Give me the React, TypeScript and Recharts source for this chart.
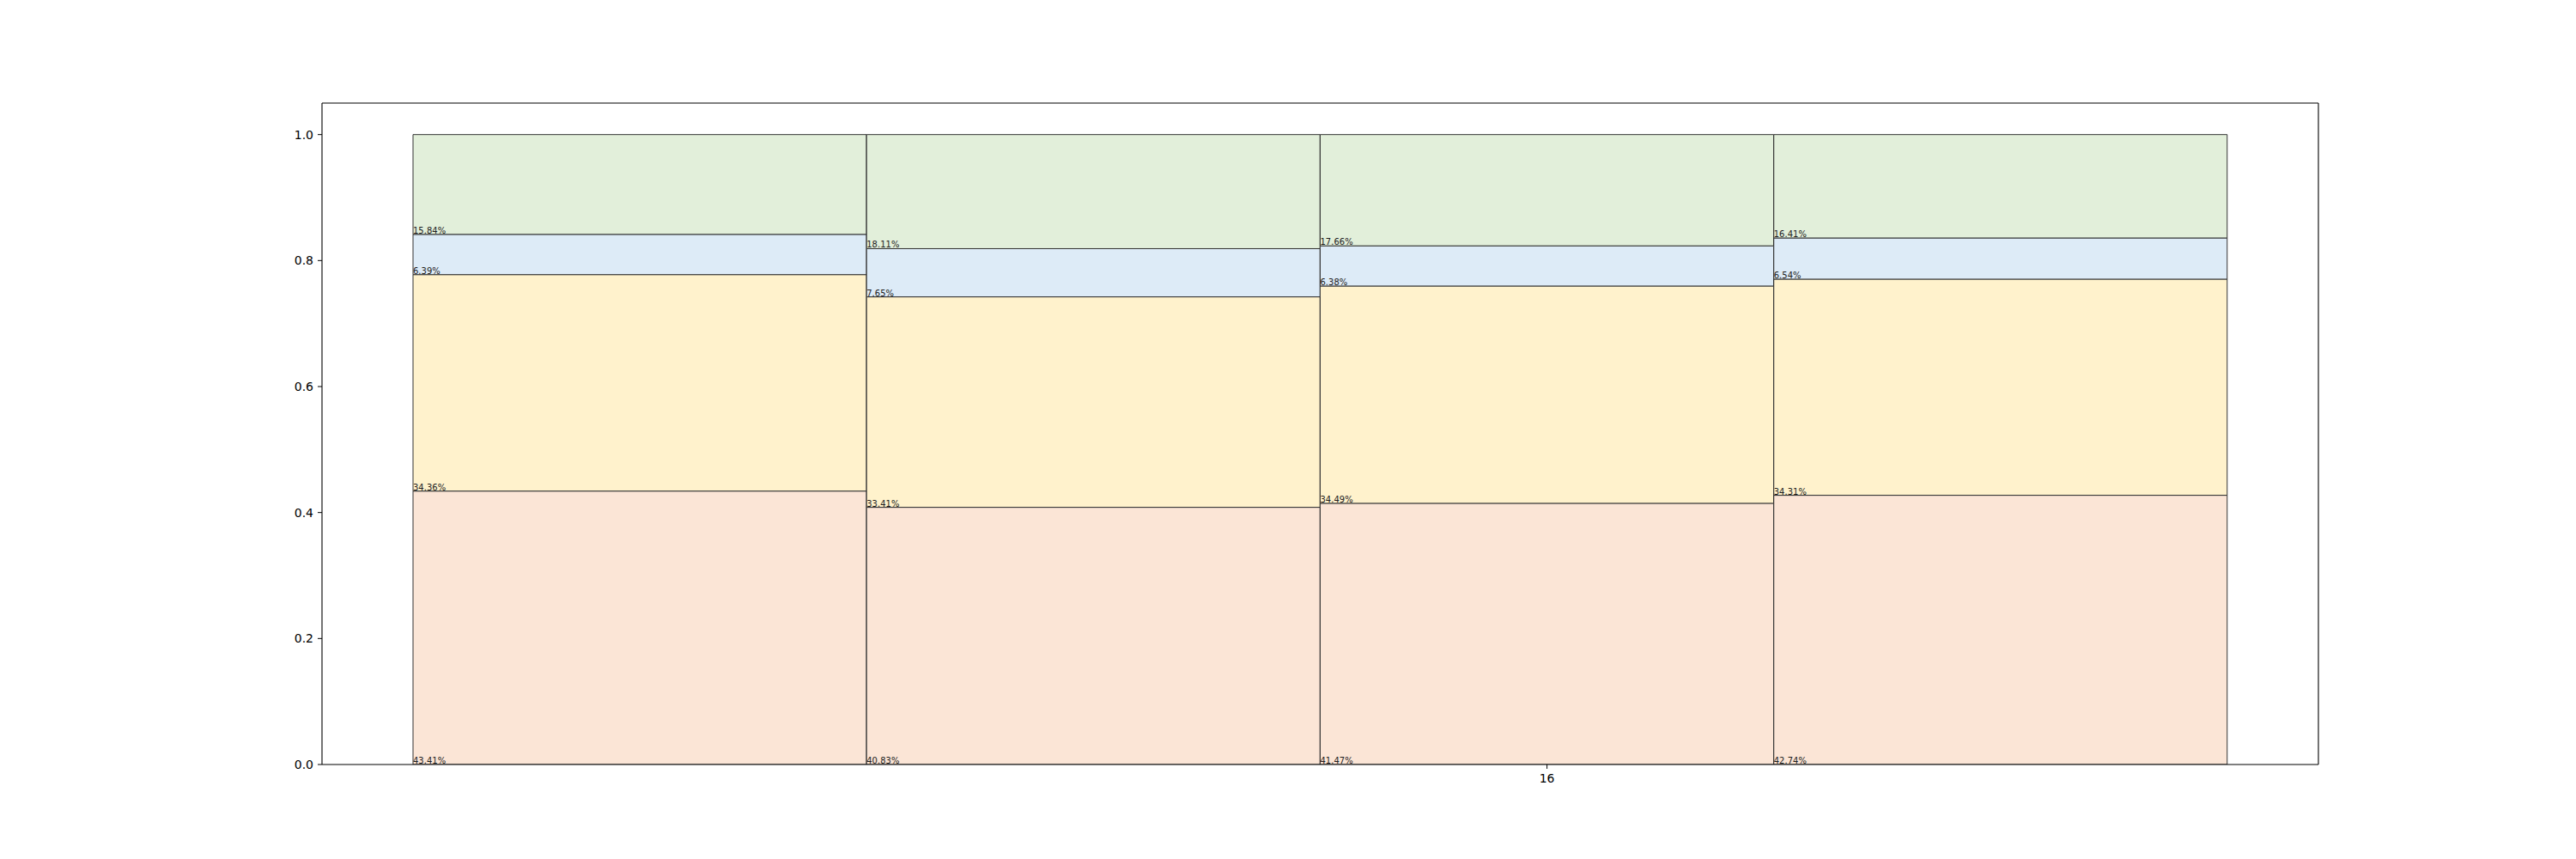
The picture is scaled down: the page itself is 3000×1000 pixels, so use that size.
import { Bar, BarChart, LabelList, XAxis, YAxis } from "recharts";

const groups = [14, 15, 16, 17];
const bottomShare = [43.41, 40.83, 41.47, 42.74];
const lowerShare = [34.36, 33.41, 34.49, 34.31];
const middleShare = [6.39, 7.65, 6.38, 6.54];
const topShare = [15.84, 18.11, 17.66, 16.41];
const yTicks = [0, 20, 40, 60, 80, 100];
const shownXTicks = [16];

const rows = groups.map((g, i) => ({
  group: g,
  bottom: bottomShare[i],
  lower: lowerShare[i],
  middle: middleShare[i],
  top: topShare[i],
}));

const series = [
  { key: "bottom", fill: "#fbe5d6" },
  { key: "lower", fill: "#fff2cc" },
  { key: "middle", fill: "#ddebf7" },
  { key: "top", fill: "#e2efda" },
];

const font = "DejaVu Sans, sans-serif";

function SegmentLabel(props: any) {
  const { x, y, height, value } = props;
  if (value == null) return null;
  return (
    <text x={x} y={y + height - 1} fontSize={10} fontFamily={font} fill="#222" textAnchor="start">
      {Number(value).toFixed(2)}%
    </text>
  );
}

function XTick(props: any) {
  const { x, y, payload } = props;
  if (!shownXTicks.includes(payload.value)) return null;
  return (
    <g>
      <line x1={x} x2={x} y1={y - 8} y2={y - 3} stroke="#000" strokeWidth={1} />
      <text x={x} y={y + 13} textAnchor="middle" fontSize={14} fontFamily={font} fill="#000">
        {payload.value}
      </text>
    </g>
  );
}

export default function App() {
  return (
    <div style={{ position: "absolute", left: 0, top: 0, background: "#fff" }}>
      <BarChart
        width={3000}
        height={1000}
        data={rows}
        margin={{ top: 119, right: 299, bottom: 80, left: 315 }}
        barCategoryGap={0}
        barGap={0}
      >
        <XAxis
          dataKey="group"
          type="category"
          padding={{ left: 106, right: 106 }}
          height={30}
          tickSize={5}
          tickMargin={3}
          tickLine={false}
          tick={<XTick />}
          axisLine={{ stroke: "#000", strokeWidth: 1.1 }}
          interval={0}
        />
        <XAxis
          xAxisId="frameTop"
          dataKey="group"
          type="category"
          orientation="top"
          height={1}
          tick={false}
          tickLine={false}
          axisLine={{ stroke: "#000", strokeWidth: 1.1 }}
        />
        <YAxis
          type="number"
          domain={[0, 105]}
          ticks={yTicks}
          width={60}
          tickSize={5}
          tickMargin={5}
          tickFormatter={(v: number) => (v / 100).toFixed(1)}
          tick={{ fontSize: 14, fontFamily: font, fill: "#000" }}
          tickLine={{ stroke: "#000" }}
          axisLine={{ stroke: "#000", strokeWidth: 1.1 }}
          allowDataOverflow
        />
        <YAxis
          yAxisId="frameRight"
          orientation="right"
          type="number"
          domain={[0, 105]}
          width={1}
          tick={false}
          tickLine={false}
          axisLine={{ stroke: "#000", strokeWidth: 1.1 }}
        />
        {series.map((s) => (
          <Bar
            key={s.key}
            dataKey={s.key}
            stackId="mosaic"
            fill={s.fill}
            stroke="#333"
            strokeWidth={1}
            isAnimationActive={false}
          >
            <LabelList dataKey={s.key} content={<SegmentLabel />} />
          </Bar>
        ))}
      </BarChart>
    </div>
  );
}
